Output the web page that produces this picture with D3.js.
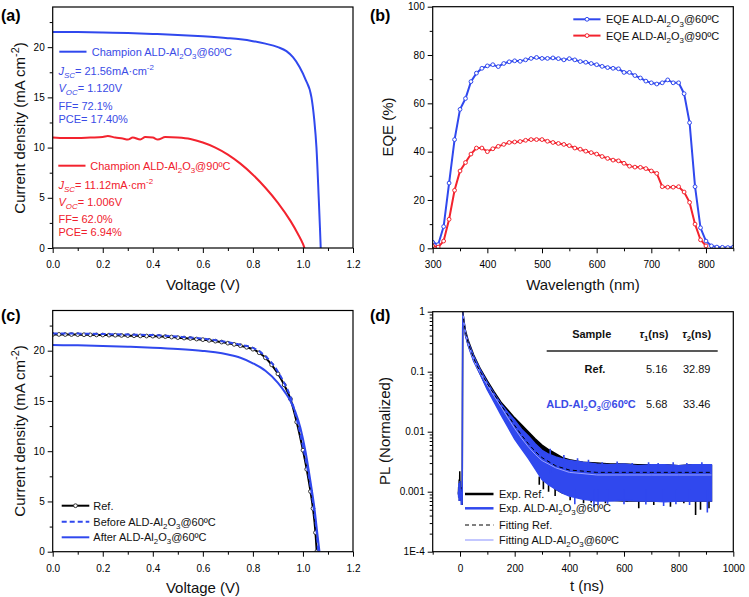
<!DOCTYPE html>
<html><head><meta charset="utf-8">
<script src="https://cdn.jsdelivr.net/npm/d3@7"></script>
<style>body{margin:0;background:#fff}svg{display:block}</style>
</head><body>
<svg id="chart" width="749" height="597"></svg>
<script>
// ---------------- DATA ----------------
// (a) J-V champion curves
const vA60 = [0,0.1,0.2,0.3,0.4,0.5,0.6,0.7,0.75,0.8,0.85,0.9,0.934,0.96,0.987,1.01,1.034,1.045,1.054,1.063,1.068,1.071];
const jA60 = [21.52,21.5,21.45,21.4,21.32,21.22,21.08,20.9,20.78,20.6,20.35,20.0,19.6,19.0,18.0,16.8,15.0,12.8,10.0,5.0,2.0,0];
const vA90 = [0,0.05,0.1,0.15,0.2,0.22,0.25,0.28,0.3,0.32,0.35,0.37,0.4,0.42,0.45,0.5,0.55,0.6,0.65,0.7,0.75,0.8,0.85,0.9,0.95,0.98,1.0,1.006];
const jA90 = [11.0,10.95,10.95,11.0,11.05,11.15,11.0,10.9,10.8,11.0,10.8,11.05,11.0,10.8,11.05,11.0,10.85,10.5,10.0,9.3,8.4,7.3,6.0,4.5,2.7,1.4,0.4,0];

// (b) EQE
const wl60 = [300,310,320,330,340,350,360,370,380,390,400,410,420,430,440,450,460,470,480,490,500,510,520,530,540,550,560,570,580,590,600,610,620,630,640,650,660,670,680,690,700,710,720,730,740,750,760,770,780,790,800,810,820,830,840,850];
const eqe60 = [2.5,1.5,9,27,45,57.5,62,69,72.5,74.5,75.5,76,75.2,76.5,77.2,77.6,77.4,78,78.6,79,78.6,78.6,78.8,78.5,78,78.5,78,77.3,77,76.5,76,75.3,74.8,74.5,74.3,72.8,72.8,71.5,70.5,69.2,68.5,68,68.5,69.7,68.5,68.5,64,52,25.5,8.5,3,1,0.5,0.4,0.3,0.5];
const wl90 = [300,310,320,330,340,350,360,370,380,390,400,410,420,430,440,450,460,470,480,490,500,510,520,530,540,550,560,570,580,590,600,610,620,630,640,650,660,670,680,690,700,710,720,730,740,750,760,770,780,790,800];
const eqe90 = [1,0.5,3,12,24,32,35.5,39,41.5,41.5,40,41.2,42.2,43,43.8,44,44.2,44.7,45,45,45,44.3,43.8,43.4,43,42.5,41.5,41,40.2,39.6,39,38,37.2,36.5,36.2,35.2,34,33.6,33.5,33,32,31,25.5,25.3,25.3,25.5,23.3,19,10,3.5,1];

// (c) J-V comparison
const vRef = [0,0.025,0.05,0.075,0.1,0.125,0.15,0.175,0.2,0.225,0.25,0.275,0.3,0.325,0.35,0.375,0.4,0.425,0.45,0.475,0.5,0.525,0.55,0.575,0.6,0.625,0.65,0.675,0.7,0.725,0.75,0.775,0.8,0.825,0.85,0.875,0.9,0.925,0.95,0.975,1.0,1.015,1.03,1.04,1.05,1.055];
const jRef = [21.62,21.62,21.61,21.61,21.6,21.59,21.58,21.57,21.56,21.55,21.54,21.52,21.5,21.49,21.47,21.46,21.45,21.42,21.4,21.36,21.3,21.26,21.22,21.16,21.1,21.03,20.95,20.86,20.75,20.63,20.5,20.34,20.15,19.8,19.3,18.6,17.7,16.6,15.2,12.9,10.1,8.2,6.0,4.3,1.9,0];
const vBefore = [0,0.1,0.2,0.3,0.4,0.5,0.6,0.65,0.7,0.75,0.8,0.825,0.85,0.875,0.9,0.925,0.95,0.975,1.0,1.02,1.035,1.045,1.055,1.061];
const jBefore = [21.72,21.7,21.66,21.6,21.55,21.4,21.2,21.05,20.85,20.6,20.28,19.95,19.45,18.8,17.9,16.8,15.4,13.2,10.5,8.0,5.8,4.0,1.9,0];
const vAfter = [0,0.1,0.2,0.3,0.4,0.5,0.6,0.65,0.7,0.75,0.8,0.85,0.9,0.93,0.95,0.97,0.99,1.01,1.03,1.045,1.058,1.066];
const jAfter = [20.57,20.53,20.48,20.4,20.3,20.17,19.98,19.84,19.62,19.3,18.75,18.0,16.8,15.8,15.0,13.9,12.3,10.0,7.0,4.5,1.7,0];

// (d) TRPL
const tPre = [-6,-5,-4,-3,-2,-1,0,1,2,3,4,5,6,7,8,9,10];
const plPreAld = [0.0010,0.0008,0.0014,0.0007,0.0012,0.0009,0.0015,0.0008,0.0011,0.0007,0.0010,0.0006,0.0009,0.0006,0.0007,0.05,1];
const plPreRef = [0.0009,0.0012,0.0008,0.0016,0.0007,0.0022,0.0008,0.0015,0.0007,0.0012,0.0008,0.0009,0.0006,0.0008,0.0006,0.03,0.95];
const tEnv = [10,15,20,30,50,75,100,125,150,175,200,225,250,275,300,325,350,375,400,450,500,550,600,650,700,750,800,850,920];
const refUpper = [1,0.67,0.48,0.33,0.19,0.11,0.07,0.046,0.031,0.023,0.017,0.013,0.010,0.0076,0.006,0.005,0.0043,0.0037,0.0034,0.0031,0.003,0.0029,0.0029,0.0028,0.0028,0.0028,0.0027,0.0028,0.0027];
const refLower = [1,0.56,0.41,0.28,0.155,0.09,0.052,0.033,0.021,0.0135,0.0085,0.0058,0.004,0.0027,0.0018,0.0014,0.0011,0.00095,0.0009,0.0008,0.00075,0.00072,0.0007,0.0007,0.0007,0.0007,0.0007,0.0007,0.0007];
const aldUpper = [1,0.65,0.46,0.31,0.18,0.105,0.066,0.043,0.029,0.021,0.0155,0.011,0.0085,0.0063,0.0049,0.0042,0.0038,0.0035,0.0033,0.0031,0.0029,0.0028,0.0029,0.0027,0.0028,0.0028,0.0027,0.0028,0.0028];
const aldLower = [1,0.55,0.40,0.27,0.15,0.088,0.05,0.031,0.019,0.012,0.0075,0.0052,0.0036,0.0024,0.0016,0.0013,0.0011,0.00095,0.00085,0.00075,0.0007,0.0007,0.00072,0.0007,0.0007,0.00068,0.0007,0.0007,0.0007];
const spikeRefT  = [290,305,324,348,403,452,480,532,556,611,654,709,752,770,819,862,880,911];
const spikeRefHi = [0.0018,0.0016,0.0014,0.0012,0.0011,0.0011,0.0011,0.0011,0.0011,0.0011,0.0011,0.0011,0.0011,0.0011,0.0011,0.0011,0.0011,0.0011];
const spikeRefLo = [0.0013,0.0011,0.001,0.00085,0.00072,0.00064,0.00066,0.00064,0.00072,0.00068,0.00053,0.0006,0.00068,0.00056,0.00064,0.00041,0.0005,0.00053];
const spikeAldT  = [420,490,505,540,600,680,745,790,840,905];
const spikeAldHi = [0.0011,0.0011,0.0011,0.0011,0.0011,0.0011,0.0011,0.0011,0.0011,0.0011];
const spikeAldLo = [0.00062,0.00055,0.0006,0.00063,0.00062,0.00061,0.00058,0.00062,0.0006,0.00045];
const spikeUpT  = [330,380,430,470,520,575,630,690,725,780,830,885];
const spikeUpHi = [0.0052,0.0041,0.0036,0.0034,0.0031,0.0032,0.003,0.0031,0.003,0.0031,0.003,0.0031];
const tFit = [10,15,20,30,40,50,60,75,100,125,150,175,200,225,250,275,300,350,400,450,500,600,700,800,920];
const fitRef = [1,0.62,0.45,0.30,0.22,0.168,0.13,0.098,0.063,0.042,0.028,0.019,0.0127,0.0088,0.0063,0.0047,0.0037,0.0027,0.0023,0.0022,0.0021,0.0021,0.0021,0.0021,0.0021];
const fitAld = [1,0.6,0.43,0.29,0.21,0.16,0.125,0.094,0.06,0.039,0.026,0.017,0.0113,0.0078,0.0056,0.0042,0.0033,0.0025,0.0021,0.002,0.0019,0.0019,0.0019,0.0019,0.0019];
const tableSamples = ["Ref.", "ALD"];
const tau1 = ["5.16","5.68"];
const tau2 = ["32.89","33.46"];

// ticks
const jvXMajor = [0,0.2,0.4,0.6,0.8,1.0,1.2], jvXLabels = ["0.0","0.2","0.4","0.6","0.8","1.0","1.2"], jvXMinor = [0.1,0.3,0.5,0.7,0.9,1.1];
const jvYMajor = [0,5,10,15,20], jvYLabels = ["0","5","10","15","20"], jvYMinor = [2.5,7.5,12.5,17.5,22.5];
const eqeXMajor = [300,400,500,600,700,800], eqeXLabels = ["300","400","500","600","700","800"], eqeXMinor = [350,450,550,650,750,850];
const eqeYMajor = [0,20,40,60,80,100], eqeYLabels = ["0","20","40","60","80","100"], eqeYMinor = [10,30,50,70,90];
const plXMajor = [0,200,400,600,800,1000], plXLabels = ["0","200","400","600","800","1000"], plXMinor = [-100,100,300,500,700,900];
const plYMajor = [1e-4,1e-3,1e-2,0.1,1], plYLabels = ["1E-4","0.001","0.01","0.1","1"];

// ---------------- DRAW ----------------
const F = 'Arial, "Liberation Sans", Helvetica, sans-serif';
const BLUE = "#3048ee", RED = "#f3232e", TBLUE = "#3a4be6", TRED = "#f0202c";
const svg = d3.select("#chart");
const zip = (a,b) => a.map((v,i)=>[v,b[i]]);

function rich(g, x, y, parts, size, color, anchor, weight) {
  const t = g.append("text").attr("x", x).attr("y", y).attr("font-family", F)
    .attr("font-size", size).attr("fill", color).attr("text-anchor", anchor || "start")
    .attr("font-weight", weight || "normal");
  let cur = 0;
  parts.forEach(p => {
    const s = Array.isArray(p) ? p[0] : p, k = Array.isArray(p) ? p[1] : "";
    let off = 0, fs = size;
    if (k.includes("sub")) { off = size*0.3; fs = size*0.72; }
    if (k.includes("sup")) { off = -size*0.4; fs = size*0.72; }
    const ts = t.append("tspan").text(s).attr("dy", off - cur).attr("font-size", fs);
    if (k.includes("it")) ts.attr("font-style", "italic");
    cur = off;
  });
  return t;
}
const alo = (pre, post) => [pre + "ALD-Al", ["2","sub"], "O", ["3","sub"], "@60ºC" + (post||"")];
const alo90 = (pre) => [pre + "ALD-Al", ["2","sub"], "O", ["3","sub"], "@90ºC"];

function axes(box, x, y, xMaj, xLab, xMin, yMaj, yLab, yMin) {
  const mk = (tr, axis) => { const g = svg.append("g").attr("transform", tr).attr("font-family", F).attr("font-size", 12.5).call(axis); g.select(".domain").remove(); return g; };
  mk(`translate(0,${box.b})`, d3.axisBottom(x).tickValues(xMaj).tickSize(5).tickPadding(8).tickFormat((d,i)=>xLab[i]));
  mk(`translate(0,${box.b})`, d3.axisBottom(x).tickValues(xMin).tickSize(3).tickFormat(""));
  mk(`translate(${box.l},0)`, d3.axisLeft(y).tickValues(yMaj).tickSize(5).tickPadding(3).tickFormat((d,i)=>yLab[i]));
  if (yMin) mk(`translate(${box.l},0)`, d3.axisLeft(y).tickValues(yMin).tickSize(3).tickFormat(""));
}
function frame(box) {
  svg.append("rect").attr("x", box.l).attr("y", box.t).attr("width", box.r-box.l).attr("height", box.b-box.t)
    .attr("fill","none").attr("stroke","#000").attr("stroke-width",1.2);
}
function clip(id, box) {
  svg.append("clipPath").attr("id", id).append("rect").attr("x", box.l).attr("y", box.t).attr("width", box.r-box.l).attr("height", box.b-box.t);
  return svg.append("g").attr("clip-path", `url(#${id})`);
}
function yTitle(cx, cy, parts) {
  const g = svg.append("g").attr("transform", `translate(${cx},${cy}) rotate(-90)`);
  rich(g, 0, 5, parts, 15, "#111", "middle");
}
function panelLabel(x, y, s) {
  svg.append("text").attr("x", x).attr("y", y).attr("font-family", F).attr("font-size", 16).attr("font-weight", "bold").text(s);
}

// ===== Panel (a) =====
const boxA = {l:52.7, r:353, t:7, b:248};
const xA = d3.scaleLinear().domain([0,1.2]).range([boxA.l, boxA.r]);
const yA = d3.scaleLinear().domain([0,24]).range([boxA.b, boxA.t]);
const gA = clip("clipA", boxA);
const lineA = d3.line().x(d=>xA(d[0])).y(d=>yA(d[1])).curve(d3.curveMonotoneX);
gA.append("path").attr("d", lineA(zip(vA60,jA60))).attr("fill","none").attr("stroke",BLUE).attr("stroke-width",2);
gA.append("path").attr("d", lineA(zip(vA90,jA90))).attr("fill","none").attr("stroke",RED).attr("stroke-width",2);
axes(boxA, xA, yA, jvXMajor, jvXLabels, jvXMinor, jvYMajor, jvYLabels, jvYMinor);
frame(boxA);
const gLa = svg.append("g");
gLa.append("line").attr("x1",59.3).attr("x2",86.5).attr("y1",51.7).attr("y2",51.7).attr("stroke",BLUE).attr("stroke-width",2);
rich(gLa, 91.7, 55.5, ["Champion ", ...alo("")], 11, TBLUE);
rich(gLa, 58.5, 74.5, [["J","it"],["SC","sub it"],"= 21.56mA·cm",["-2","sup"]], 11, TBLUE);
rich(gLa, 58.5, 92, [["V","it"],["OC","sub it"],"= 1.120V"], 11, TBLUE);
rich(gLa, 58.5, 109.5, ["FF= 72.1%"], 11, TBLUE);
rich(gLa, 58.5, 122.8, ["PCE= 17.40%"], 11, TBLUE);
gLa.append("line").attr("x1",58.3).attr("x2",85.5).attr("y1",165.7).attr("y2",165.7).attr("stroke",RED).attr("stroke-width",2);
rich(gLa, 90.3, 169.5, ["Champion ", ...alo90("")], 11, TRED);
rich(gLa, 58.5, 188.5, [["J","it"],["SC","sub it"],"= 11.12mA·cm",["-2","sup"]], 11, TRED);
rich(gLa, 58.5, 205.8, [["V","it"],["OC","sub it"],"= 1.006V"], 11, TRED);
rich(gLa, 58.5, 222.8, ["FF= 62.0%"], 11, TRED);
rich(gLa, 58.5, 235.5, ["PCE= 6.94%"], 11, TRED);
yTitle(20, 128, ["Current density (mA cm", ["-2","sup"], ")"]);
rich(svg, 203, 290, ["Voltage (V)"], 15, "#111", "middle");
panelLabel(1, 20.5, "(a)");

// ===== Panel (b) =====
const boxB = {l:432.7, r:733.3, t:6.7, b:248.3};
const xB = d3.scaleLinear().domain([300,850]).range([boxB.l, boxB.r]);
const yB = d3.scaleLinear().domain([0,100]).range([boxB.b, boxB.t]);
const gB = clip("clipB", boxB);
const lineB = d3.line().x(d=>xB(d[0])).y(d=>yB(d[1]));
[[wl60,eqe60,BLUE],[wl90,eqe90,RED]].forEach(([w,e,c]) => {
  gB.append("path").attr("d", lineB(zip(w,e))).attr("fill","none").attr("stroke",c).attr("stroke-width",2);
  gB.selectAll(null).data(zip(w,e)).enter().append("circle")
    .attr("cx",d=>xB(d[0])).attr("cy",d=>yB(d[1])).attr("r",1.9)
    .attr("fill","#fff").attr("stroke",c).attr("stroke-width",1);
});
axes(boxB, xB, yB, eqeXMajor, eqeXLabels, eqeXMinor, eqeYMajor, eqeYLabels, eqeYMinor);
frame(boxB);
[[19.3, BLUE, alo("EQE ")],[35.6, RED, alo90("EQE ")]].forEach(([yy,c,parts]) => {
  svg.append("line").attr("x1",573.3).attr("x2",600.5).attr("y1",yy).attr("y2",yy).attr("stroke",c).attr("stroke-width",2);
  svg.append("circle").attr("cx",587).attr("cy",yy).attr("r",1.9).attr("fill","#fff").attr("stroke",c).attr("stroke-width",1);
  rich(svg, 606, yy+4, parts, 11, "#111");
});
yTitle(388, 127, ["EQE (%)"]);
rich(svg, 583, 290, ["Wavelength (nm)"], 15, "#111", "middle");
panelLabel(370, 20.5, "(b)");

// ===== Panel (c) =====
const boxC = {l:52.7, r:353, t:310.5, b:551.7};
const xC = d3.scaleLinear().domain([0,1.2]).range([boxC.l, boxC.r]);
const yC = d3.scaleLinear().domain([0,24]).range([boxC.b, boxC.t]);
const gC = clip("clipC", boxC);
const lineC = d3.line().x(d=>xC(d[0])).y(d=>yC(d[1])).curve(d3.curveMonotoneX);
gC.append("path").attr("d", lineC(zip(vRef,jRef))).attr("fill","none").attr("stroke","#000").attr("stroke-width",2);
gC.selectAll(null).data(zip(vRef,jRef)).enter().append("circle")
  .attr("cx",d=>xC(d[0])).attr("cy",d=>yC(d[1])).attr("r",1.9)
  .attr("fill","#fff").attr("stroke","#222").attr("stroke-width",0.9);
gC.append("path").attr("d", lineC(zip(vBefore,jBefore))).attr("fill","none").attr("stroke",BLUE).attr("stroke-width",2).attr("stroke-dasharray","5,3");
gC.append("path").attr("d", lineC(zip(vAfter,jAfter))).attr("fill","none").attr("stroke",BLUE).attr("stroke-width",2);
axes(boxC, xC, yC, jvXMajor, jvXLabels, jvXMinor, jvYMajor, jvYLabels, jvYMinor);
frame(boxC);
svg.append("line").attr("x1",61.7).attr("x2",89.3).attr("y1",505.7).attr("y2",505.7).attr("stroke","#000").attr("stroke-width",2);
svg.append("circle").attr("cx",75.5).attr("cy",505.7).attr("r",1.9).attr("fill","#fff").attr("stroke","#222").attr("stroke-width",0.9);
rich(svg, 93.3, 509.6, ["Ref."], 11, "#111");
svg.append("line").attr("x1",61.7).attr("x2",89.3).attr("y1",521.7).attr("y2",521.7).attr("stroke",BLUE).attr("stroke-width",2).attr("stroke-dasharray","5,3");
rich(svg, 93.3, 525.5, alo("Before "), 11, "#111");
svg.append("line").attr("x1",61.7).attr("x2",89.3).attr("y1",537.3).attr("y2",537.3).attr("stroke",BLUE).attr("stroke-width",2);
rich(svg, 93.3, 541, alo("After "), 11, "#111");
yTitle(20, 431, ["Current density (mA cm", ["-2","sup"], ")"]);
rich(svg, 203, 593, ["Voltage (V)"], 15, "#111", "middle");
panelLabel(1, 321, "(c)");

// ===== Panel (d) =====
const boxD = {l:432.7, r:733.3, t:311.7, b:551.7};
const xD = d3.scaleLinear().domain([-100,1000]).range([boxD.l, boxD.r]);
const yD = d3.scaleLog().domain([1e-4,1]).range([boxD.b, boxD.t]);
const gD = clip("clipD", boxD);
const lineD = d3.line().x(d=>xD(d[0])).y(d=>yD(d[1]));
const areaD = (t,lo,hi) => d3.area().x(d=>xD(d[0])).y0(d=>yD(d[1])).y1(d=>yD(d[2]))(t.map((v,i)=>[v,lo[i],hi[i]]));
const spikes = (T, hi, lo, color) => T.forEach((t,i) => gD.append("line").attr("x1",xD(t)).attr("x2",xD(t)).attr("y1",yD(hi[i])).attr("y2",yD(lo[i])).attr("stroke",color).attr("stroke-width",1.6));
// Exp. Ref (black)
gD.append("path").attr("d", lineD(zip(tPre,plPreRef))).attr("fill","none").attr("stroke","#000").attr("stroke-width",1.5);
gD.append("path").attr("d", areaD(tEnv, refLower, refUpper)).attr("fill","#000").attr("stroke","#000").attr("stroke-width",1.5);
spikes(spikeRefT, spikeRefHi, spikeRefLo, "#000");
// Exp. ALD (blue)
gD.append("path").attr("d", lineD(zip(tPre,plPreAld))).attr("fill","none").attr("stroke",BLUE).attr("stroke-width",1.5);
gD.append("path").attr("d", areaD(tEnv, aldLower, aldUpper)).attr("fill",BLUE).attr("stroke",BLUE).attr("stroke-width",1.5);
spikes(spikeAldT, spikeAldHi, spikeAldLo, BLUE);
spikes(spikeUpT, spikeUpHi, spikeUpT.map(()=>0.002), BLUE);
// fits
gD.append("path").attr("d", lineD(zip(tFit,fitAld))).attr("fill","none").attr("stroke","#9aa2ff").attr("stroke-width",1);
gD.append("path").attr("d", lineD(zip(tFit,fitRef))).attr("fill","none").attr("stroke","#000").attr("stroke-width",1).attr("stroke-dasharray","4,3");
const mkD = (tr, axis) => { const g = svg.append("g").attr("transform", tr).attr("font-family", F).attr("font-size", 12.5).call(axis); g.select(".domain").remove(); return g; };
mkD(`translate(0,${boxD.b})`, d3.axisBottom(xD).tickValues(plXMajor).tickSize(5).tickPadding(8).tickFormat((d,i)=>plXLabels[i]));
mkD(`translate(0,${boxD.b})`, d3.axisBottom(xD).tickValues(plXMinor).tickSize(3).tickFormat(""));
mkD(`translate(${boxD.l},0)`, d3.axisLeft(yD).tickValues(plYMajor).tickSize(5).tickPadding(3).tickFormat((d,i)=>plYLabels[i]));
mkD(`translate(${boxD.l},0)`, d3.axisLeft(yD).tickValues(yD.ticks().filter(v => !plYMajor.some(m => Math.abs(m-v)/m < 1e-6))).tickSize(3).tickFormat(""));
frame(boxD);
// legend (d)
svg.append("line").attr("x1",465).attr("x2",493.5).attr("y1",494).attr("y2",494).attr("stroke","#000").attr("stroke-width",2.5);
rich(svg, 499, 497.8, ["Exp. Ref."], 11, "#111");
svg.append("line").attr("x1",465).attr("x2",493.5).attr("y1",508.3).attr("y2",508.3).attr("stroke",BLUE).attr("stroke-width",2.5);
rich(svg, 499, 512, alo("Exp. "), 11, "#111");
svg.append("line").attr("x1",465).attr("x2",493.5).attr("y1",525).attr("y2",525).attr("stroke","#000").attr("stroke-width",1).attr("stroke-dasharray","4,3");
rich(svg, 499, 528.8, ["Fitting Ref."], 11, "#111");
svg.append("line").attr("x1",465).attr("x2",493.5).attr("y1",540).attr("y2",540).attr("stroke","#9aa2ff").attr("stroke-width",1.2);
rich(svg, 499, 543.8, alo("Fitting "), 11, "#111");
// table (d)
rich(svg, 591.7, 338, ["Sample"], 11, "#111", "middle", "bold");
rich(svg, 654, 338, [["τ","it"],["1","sub"],"(ns)"], 11, "#111", "middle", "bold");
rich(svg, 696.7, 338, [["τ","it"],["2","sub"],"(ns)"], 11, "#111", "middle", "bold");
svg.append("line").attr("x1",546.7).attr("x2",717.7).attr("y1",351).attr("y2",351).attr("stroke","#222").attr("stroke-width",1.4);
rich(svg, 595, 373, [tableSamples[0]], 11, "#111", "middle", "bold");
rich(svg, 591, 408, alo(""), 11, TBLUE, "middle", "bold");
[373,408].forEach((yy,i) => {
  rich(svg, 656.7, yy, [tau1[i]], 11, "#111", "middle");
  rich(svg, 696.7, yy, [tau2[i]], 11, "#111", "middle");
});
yTitle(385, 431, ["PL (Normalized)"]);
rich(svg, 587, 591, ["t (ns)"], 15, "#111", "middle");
panelLabel(370, 321, "(d)");
</script>
</body></html>
